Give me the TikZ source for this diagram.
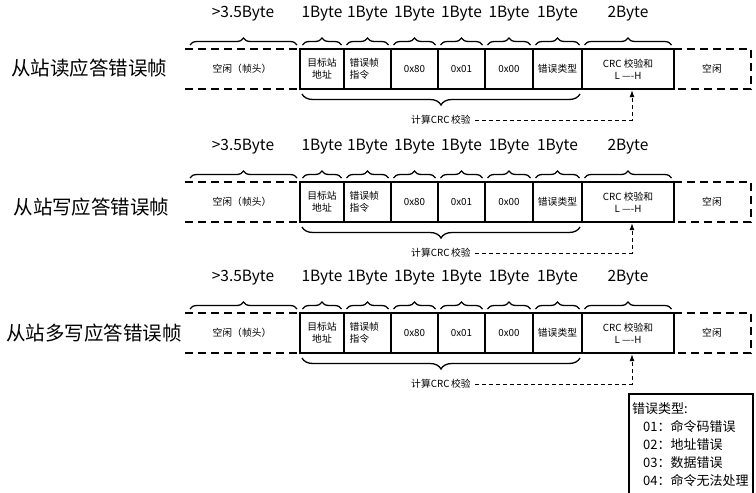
\documentclass[tikz,border=0pt]{standalone}
\usepackage{fontspec}
\setmainfont{Noto Sans CJK SC}
\usetikzlibrary{decorations.pathreplacing,arrows.meta}
\begin{document}
\begin{tikzpicture}[x=1pt,y=-1pt,
  cell/.style={draw,line width=1.4pt,minimum height=40pt,inner sep=1pt,
    font=\fontsize{9.8}{11.8}\selectfont,align=center},
  plain/.style={inner sep=1pt,font=\fontsize{9.8}{11.8}\selectfont},
  bytelbl/.style={inner sep=0pt,font=\fontsize{15.5}{18}\selectfont},
  titlelbl/.style={inner sep=0pt,font=\fontsize{19.5}{22}\selectfont},
  topbrace/.style={decorate,decoration={brace,amplitude=7pt},line width=1.3pt},
  botbrace/.style={decorate,decoration={brace,amplitude=11pt},line width=1.3pt},
  dashline/.style={line width=1.6pt,dash pattern=on 8pt off 5pt},
  crcarrow/.style={line width=0.9pt,dash pattern=on 4pt off 3pt,-{Latex[length=7pt,width=5pt]},shorten >=0.5pt,shorten <=3pt},
  legendtxt/.style={inner sep=0pt,anchor=west,font=\fontsize{13}{15}\selectfont},
]
\useasboundingbox (0,0) rectangle (756,493);

\foreach \yo/\ttl/\tx/\ty/\s in {0/从站读应答错误帧/89.5/68/a, 133/从站写应答错误帧/91.5/74/b, 264/从站多写应答错误帧/94/69/c}{
\begin{scope}[yshift=-\yo pt]
  % title
  \node[titlelbl] (title\s) at (\tx,\ty) {\ttl};
  % idle head
  \draw[dashline] (185,49) -- (300,49);
  \draw[dashline] (185,89) -- (300,89);
  \node[plain] (idle\s) at (242,69) {空闲（帧头）};
  % cells
  \node[cell,minimum width=44pt] (ca\s) at (322,69) {目标站\\地址};
  \node[cell,minimum width=47pt,align=left,text width=36pt] (cb\s) at (367.5,69) {错误帧\\指令};
  \node[cell,minimum width=47pt] (cc\s) at (414.5,69) {0x80};
  \node[cell,minimum width=47pt] (cd\s) at (461.5,69) {0x01};
  \node[cell,minimum width=48pt] (ce\s) at (509,69) {0x00};
  \node[cell,minimum width=49pt] (cf\s) at (557.5,69) {错误类型};
  \node[cell,minimum width=92pt] (cg\s) at (628,69) {CRC 校验和\\L —-H};
  % idle tail
  \draw[dashline] (674,49) -- (751,49) -- (751,89) -- (674,89);
  \node[plain] (tail\s) at (712,69) {空闲};
  % top braces and labels
  \draw[topbrace] (190,45) -- (297,45);
  \node[bytelbl] (lh\s) at (243,14) {>3.5Byte};
  \foreach \xa/\xb/\lab [count=\i] in {300/344/1Byte, 344/391/1Byte, 391/438/1Byte, 438/485/1Byte, 485/533/1Byte, 533/582/1Byte, 582/674/2Byte}{
    \draw[topbrace] (\xa+2.5,45) -- (\xb-2.5,45);
    \node[bytelbl] (lb\s\i) at ({(\xa+\xb)/2},14) {\lab};
  }
  % bottom brace and CRC calc
  \draw[botbrace] (580,94) -- (302,94);
  \node[plain] (crc\s) at (441,120) {计算CRC\,校验};
  \draw[crcarrow] (crc\s.east) -| ([xshift=4pt]cg\s.south);
\end{scope}
}

% legend
\draw[line width=1.2pt] (629,500) -- (629,394) -- (753,394) -- (753,500);
\node[legendtxt] (lg0) at (632,409) {错误类型:};
\node[legendtxt] (lg1) at (643,427) {01：命令码错误};
\node[legendtxt] (lg2) at (643,445) {02：地址错误};
\node[legendtxt] (lg3) at (643,463) {03：数据错误};
\node[legendtxt] (lg4) at (643,481) {04：命令无法处理};
\end{tikzpicture}
\end{document}
